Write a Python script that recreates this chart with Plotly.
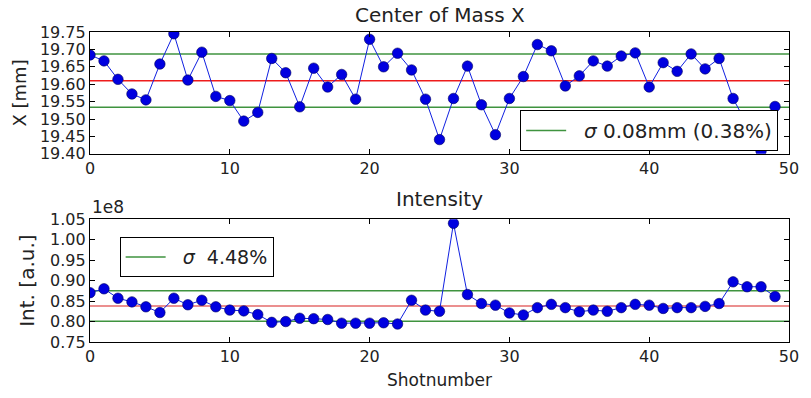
import plotly.graph_objects as go

shots = list(range(50))

com_x = [19.684, 19.667, 19.614, 19.572, 19.555, 19.658, 19.745, 19.612, 19.692, 19.565,
         19.553, 19.494, 19.519, 19.674, 19.633, 19.535, 19.646, 19.592, 19.628, 19.557,
         19.729, 19.650, 19.689, 19.641, 19.557, 19.441, 19.559, 19.652, 19.541, 19.455,
         19.559, 19.622, 19.714, 19.696, 19.595, 19.624, 19.667, 19.652, 19.681, 19.690,
         19.592, 19.662, 19.637, 19.687, 19.644, 19.674, 19.559, 19.482, 19.408, 19.536]

intensity = [0.8705e8, 0.880e8, 0.857e8, 0.848e8, 0.836e8, 0.822e8, 0.857e8, 0.841e8, 0.852e8, 0.836e8,
             0.828e8, 0.826e8, 0.817e8, 0.798e8, 0.800e8, 0.808e8, 0.807e8, 0.805e8, 0.796e8, 0.796e8,
             0.796e8, 0.797e8, 0.794e8, 0.852e8, 0.828e8, 0.825e8, 1.040e8, 0.866e8, 0.844e8, 0.840e8,
             0.821e8, 0.816e8, 0.834e8, 0.842e8, 0.834e8, 0.824e8, 0.828e8, 0.825e8, 0.834e8, 0.842e8,
             0.840e8, 0.832e8, 0.834e8, 0.834e8, 0.837e8, 0.844e8, 0.897e8, 0.885e8, 0.885e8, 0.861e8]

com_mean = 19.610
com_sigma = 0.0765
int_mean = 0.838e8
int_sigma = 0.0375e8

x_ticks = [0, 10, 20, 30, 40, 50]
com_ticks = [19.40, 19.45, 19.50, 19.55, 19.60, 19.65, 19.70, 19.75]
com_ticklabels = ["19.40", "19.45", "19.50", "19.55", "19.60", "19.65", "19.70", "19.75"]
int_ticks = [0.75e8, 0.80e8, 0.85e8, 0.90e8, 0.95e8, 1.00e8, 1.05e8]
int_ticklabels = ["0.75", "0.80", "0.85", "0.90", "0.95", "1.00", "1.05"]

FONT = "DejaVu Sans"
TXT = "#222"
GREEN = "#3f933f"
BLUE = "#1020e0"
NB = "\u00a0"

fig = go.Figure()
xspan = [shots[0], 50]

# Top panel
fig.add_trace(go.Scatter(x=xspan, y=[com_mean + com_sigma] * 2, mode="lines",
                         line=dict(color=GREEN, width=1.5), name=NB + NB + "<i>σ</i> 0.08mm (0.38%)",
                         legend="legend", showlegend=True, xaxis="x", yaxis="y"))
fig.add_trace(go.Scatter(x=xspan, y=[com_mean - com_sigma] * 2, mode="lines",
                         line=dict(color=GREEN, width=1.5), showlegend=False, xaxis="x", yaxis="y"))
fig.add_trace(go.Scatter(x=xspan, y=[com_mean] * 2, mode="lines",
                         line=dict(color="#ee1c1c", width=1.3), showlegend=False, xaxis="x", yaxis="y"))
fig.add_trace(go.Scatter(x=shots, y=com_x, mode="lines+markers",
                         line=dict(color=BLUE, width=1),
                         marker=dict(color="#0000e0", size=10.5, line=dict(color="#000060", width=0.6)),
                         showlegend=False, xaxis="x", yaxis="y"))

# Bottom panel
fig.add_trace(go.Scatter(x=xspan, y=[int_mean + int_sigma] * 2, mode="lines",
                         line=dict(color=GREEN, width=1.5), name=NB + NB + "<i>σ</i>" + NB + " 4.48%",
                         legend="legend2", showlegend=True, xaxis="x2", yaxis="y2"))
fig.add_trace(go.Scatter(x=xspan, y=[int_mean - int_sigma] * 2, mode="lines",
                         line=dict(color=GREEN, width=1.5), showlegend=False, xaxis="x2", yaxis="y2"))
fig.add_trace(go.Scatter(x=xspan, y=[int_mean] * 2, mode="lines",
                         line=dict(color="#e56a6a", width=1.3), showlegend=False, xaxis="x2", yaxis="y2"))
fig.add_trace(go.Scatter(x=shots, y=intensity, mode="lines+markers",
                         line=dict(color=BLUE, width=1),
                         marker=dict(color="#0000e0", size=10.5, line=dict(color="#000060", width=0.6)),
                         showlegend=False, xaxis="x2", yaxis="y2"))

axis_common = dict(showline=True, linecolor="black", linewidth=1.2, mirror="ticks",
                   ticks="inside", ticklen=5, tickcolor="black", showgrid=False, zeroline=False,
                   tickfont=dict(family=FONT, size=16, color=TXT))

fig.update_layout(
    width=811, height=398,
    margin=dict(l=90, r=14, t=32, b=53),
    paper_bgcolor="white", plot_bgcolor="white",
    font=dict(family=FONT, color=TXT),
    xaxis=dict(domain=[0, 1], anchor="y", range=[0, 50], tickvals=x_ticks,
               **axis_common),
    yaxis=dict(domain=[0.607, 1], anchor="x", range=[19.40, 19.75], tickvals=com_ticks,
               ticktext=com_ticklabels,
               title=dict(text="X [mm]", font=dict(family=FONT, size=18, color=TXT), standoff=8),
               **axis_common),
    xaxis2=dict(domain=[0, 1], anchor="y2", range=[0, 50], tickvals=x_ticks,
                title=dict(text="Shotnumber", font=dict(family=FONT, size=17, color=TXT), standoff=8),
                **axis_common),
    yaxis2=dict(domain=[0, 0.396], anchor="x2", range=[0.75e8, 1.05e8], tickvals=int_ticks,
                ticktext=int_ticklabels,
                title=dict(text="Int. [a.u.]", font=dict(family=FONT, size=20, color=TXT), standoff=10),
                **axis_common),
    legend=dict(x=0.9845, y=0.616, xanchor="right", yanchor="bottom", bgcolor="white",
                bordercolor="black", borderwidth=1, font=dict(family=FONT, size=20, color=TXT),
                itemwidth=40, tracegroupgap=0),
    legend2=dict(x=0.0424, y=0.338, xanchor="left", yanchor="top", bgcolor="white",
                 bordercolor="black", borderwidth=1, font=dict(family=FONT, size=19, color=TXT),
                 itemwidth=40),
    annotations=[
        dict(text="Center of Mass X", xref="paper", yref="paper", x=0.5, y=1, yshift=3,
             xanchor="center", yanchor="bottom", showarrow=False,
             font=dict(family=FONT, size=20, color=TXT)),
        dict(text="Intensity", xref="paper", yref="paper", x=0.5, y=0.396, yshift=6,
             xanchor="center", yanchor="bottom", showarrow=False,
             font=dict(family=FONT, size=20, color=TXT)),
        dict(text="1e8", xref="paper", yref="paper", x=0, y=0.396, yshift=0,
             xanchor="left", yanchor="bottom", showarrow=False,
             font=dict(family=FONT, size=17, color=TXT)),
    ],
)

fig.write_html("out.html")
